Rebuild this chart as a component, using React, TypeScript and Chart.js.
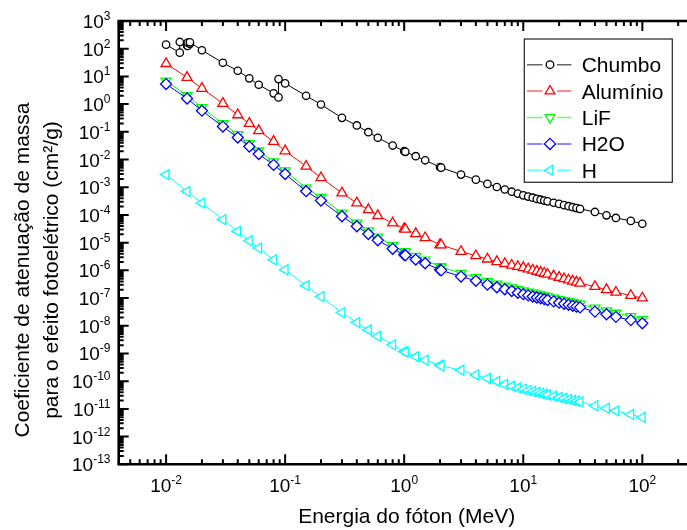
import { useEffect, useRef } from 'react';
import { Chart, registerables } from 'chart.js';

Chart.register(...registerables);

// ---------- data ----------
const energies = [
  0.01, 0.015, 0.02, 0.03, 0.04, 0.05, 0.06, 0.08, 0.1, 0.15, 0.2, 0.3, 0.4, 0.5, 0.6, 0.8,
  1, 1.022, 1.25, 1.5, 2, 2.044, 3, 4, 5, 6, 7, 8, 9, 10, 11, 12, 13, 14, 15, 16, 18, 20,
  22, 24, 26, 28, 30, 40, 50, 60, 80, 100,
];

const leadEnergies = [
  0.01, 0.013035, 0.013035, 0.015, 0.0152, 0.0152, 0.01586, 0.01586, 0.02, 0.03, 0.04, 0.05,
  0.06, 0.08, 0.088, 0.088, 0.1, 0.15, 0.2, 0.3, 0.4, 0.5, 0.6, 0.8, 1, 1.022, 1.25, 1.5, 2,
  2.044, 3, 4, 5, 6, 7, 8, 9, 10, 11, 12, 13, 14, 15, 16, 18, 20, 22, 24, 26, 28, 30, 40, 50,
  60, 80, 100,
];

const chumbo = [
  140, 72, 175, 130, 125, 165, 150, 170, 88, 31, 16, 8.5,
  5.0, 2.45, 1.75, 8.0, 5.6, 2.0, 0.97, 0.32, 0.17, 0.097, 0.061, 0.032, 0.02, 0.019, 0.0132, 0.0094, 0.0053,
  0.0051, 0.00286, 0.00188, 0.00132, 0.00102, 0.00083, 0.00069, 0.00059, 0.00051, 0.00046, 0.00042, 0.00038, 0.000355, 0.00033, 0.00031, 0.000275, 0.00025, 0.000226, 0.000207, 0.00019, 0.000177, 0.000165, 0.000128, 0.000097,
  0.000078, 0.000061, 0.000048,
];

const aluminio = [
  29, 9.2, 3.7, 1.06, 0.41, 0.2, 0.11, 0.045, 0.0205, 0.0057, 0.0022, 6.2e-4, 2.7e-4, 1.55e-4, 9.4e-5, 5.1e-5,
  3.2e-5, 3.05e-5, 2.1e-5, 1.5e-5, 8.5e-6, 8.2e-6, 4.8e-6, 3.35e-6, 2.55e-6, 2.05e-6, 1.75e-6, 1.52e-6, 1.37e-6, 1.25e-6, 1.12e-6, 1.01e-6, 9.2e-7, 8.4e-7, 7.8e-7, 7.2e-7, 6.3e-7, 5.55e-7,
  4.97e-7, 4.48e-7, 4.08e-7, 3.74e-7, 3.45e-7, 2.6e-7, 2.0e-7, 1.62e-7, 1.23e-7, 1.0e-7,
];

const lif = [
  6.8, 2.05, 0.75, 0.2, 0.08, 0.038, 0.0205, 0.0083, 0.0039, 9.4e-4, 4.3e-4, 1.17e-4, 5.1e-5, 2.68e-5, 1.6e-5, 7.9e-6,
  4.8e-6, 4.6e-6, 3.2e-6, 2.37e-6, 1.38e-6, 1.32e-6, 7.9e-7, 5.5e-7, 4.0e-7, 3.2e-7, 2.74e-7, 2.37e-7, 2.06e-7, 1.82e-7, 1.65e-7, 1.51e-7, 1.39e-7, 1.3e-7, 1.2e-7, 1.13e-7, 1.0e-7, 9.0e-8,
  8.2e-8, 7.6e-8, 7.0e-8, 6.5e-8, 6.1e-8, 4.35e-8, 3.5e-8, 2.85e-8, 2.17e-8, 1.67e-8,
];

const h2o = [
  5.3, 1.6, 0.58, 0.155, 0.062, 0.0295, 0.0158, 0.0064, 0.003, 7.2e-4, 3.3e-4, 9.0e-5, 3.9e-5, 2.05e-5, 1.22e-5, 6.0e-6,
  3.65e-6, 3.5e-6, 2.45e-6, 1.8e-6, 1.05e-6, 1.0e-6, 6.0e-7, 4.2e-7, 3.05e-7, 2.45e-7, 2.08e-7, 1.8e-7, 1.56e-7, 1.38e-7, 1.25e-7, 1.14e-7, 1.05e-7, 9.8e-8, 9.1e-8, 8.5e-8, 7.6e-8, 6.8e-8,
  6.2e-8, 5.7e-8, 5.25e-8, 4.9e-8, 4.6e-8, 3.25e-8, 2.6e-8, 2.1e-8, 1.6e-8, 1.23e-8,
];

const hidrogenio = [
  2.86e-3, 7.1e-4, 2.7e-4, 6.8e-5, 2.55e-5, 1.17e-5, 6.4e-6, 2.4e-6, 1.05e-6, 2.8e-7, 1.13e-7, 3.0e-8, 1.3e-8, 7.1e-9, 4.2e-9, 2.05e-9,
  1.17e-9, 1.12e-9, 7.7e-10, 5.8e-10, 3.8e-10, 3.6e-10, 2.5e-10, 1.67e-10, 1.27e-10, 9.8e-11, 7.6e-11, 6.6e-11, 5.7e-11, 5.1e-11, 4.6e-11, 4.25e-11, 3.95e-11, 3.65e-11, 3.4e-11, 3.2e-11, 2.87e-11, 2.6e-11,
  2.37e-11, 2.19e-11, 2.03e-11, 1.9e-11, 1.8e-11, 1.3e-11, 1.05e-11, 8.5e-12, 6.3e-12, 4.9e-12,
];

const seriesNames = ['Chumbo', 'Alumínio', 'LiF', 'H2O', 'H'];
const xTickExponents = ['-2', '-1', '0', '1', '2'];
const yTickExponents = ['3', '2', '1', '0', '-1', '-2', '-3', '-4', '-5', '-6', '-7', '-8', '-9', '-10', '-11', '-12', '-13'];
const xTitle = 'Energia do fóton (MeV)';
const yTitleLines = ['Coeficiente de atenuação de massa', 'para o efeito fotoelétrico (cm²/g)'];

// ---------- styles ----------
const FONT = '"Liberation Sans", Arial, Helvetica, sans-serif';
const W = 700;
const H = 530;
const X_MIN = 0.004;
const X_MAX = 250;
const Y_MIN = 1e-13;
const Y_MAX = 1e3;

type Marker = { color: string; style: string; radius: number; rotation: number };
const markers: Marker[] = [
  { color: '#000000', style: 'circle', radius: 3.7, rotation: 0 },
  { color: '#ff0000', style: 'triangle', radius: 5.8, rotation: 0 },
  { color: '#00ff00', style: 'triangle', radius: 5.8, rotation: 180 },
  { color: '#0000ff', style: 'rectRot', radius: 5.5, rotation: 0 },
  { color: '#00ffff', style: 'triangle', radius: 5.8, rotation: 270 },
];

function drawMarker(ctx: CanvasRenderingContext2D, m: Marker, x: number, y: number) {
  ctx.beginPath();
  const r = m.radius;
  if (m.style === 'circle') {
    ctx.arc(x, y, r, 0, Math.PI * 2);
  } else if (m.style === 'triangle') {
    let rad = (m.rotation * Math.PI) / 180;
    ctx.moveTo(x + Math.sin(rad) * r, y - Math.cos(rad) * r);
    rad += (2 * Math.PI) / 3;
    ctx.lineTo(x + Math.sin(rad) * r, y - Math.cos(rad) * r);
    rad += (2 * Math.PI) / 3;
    ctx.lineTo(x + Math.sin(rad) * r, y - Math.cos(rad) * r);
    ctx.closePath();
  } else {
    ctx.moveTo(x - r, y);
    ctx.lineTo(x, y - r);
    ctx.lineTo(x + r, y);
    ctx.lineTo(x, y + r);
    ctx.closePath();
  }
  ctx.fillStyle = '#ffffff';
  ctx.fill();
  ctx.lineWidth = 1.3;
  ctx.strokeStyle = m.color;
  ctx.stroke();
}

function drawPow(
  ctx: CanvasRenderingContext2D,
  x: number,
  baseline: number,
  exp: string,
  align: 'center' | 'right',
) {
  ctx.textAlign = 'left';
  ctx.textBaseline = 'alphabetic';
  ctx.font = `19px ${FONT}`;
  const wb = ctx.measureText('10').width;
  ctx.font = `12px ${FONT}`;
  const we = ctx.measureText(exp).width;
  const start = align === 'center' ? x - (wb + we) / 2 : x - wb - we;
  ctx.font = `19px ${FONT}`;
  ctx.fillText('10', start, baseline);
  ctx.font = `12px ${FONT}`;
  ctx.fillText(exp, start + wb, baseline - 8);
}

const framePlugin = {
  id: 'originFrame',
  afterDraw(chart: any) {
    const ctx: CanvasRenderingContext2D = chart.ctx;
    const xs = chart.scales.x;
    const ys = chart.scales.y;
    const { left, right, top, bottom } = chart.chartArea;
    ctx.save();
    ctx.fillStyle = '#000';
    ctx.strokeStyle = '#000';

    // ticks
    ctx.lineWidth = 2;
    ctx.beginPath();
    for (let e = -3; e <= 2; e++) {
      for (let m = 1; m <= 9; m++) {
        const v = m * Math.pow(10, e);
        if (v < X_MIN * 0.999 || v > X_MAX * 1.001) continue;
        const px = xs.getPixelForValue(v);
        const len = m === 1 ? 10 : 5;
        ctx.moveTo(px, bottom);
        ctx.lineTo(px, bottom - len);
        ctx.moveTo(px, top);
        ctx.lineTo(px, top + len);
      }
    }
    for (let e = -13; e <= 3; e++) {
      for (let m = 1; m <= 9; m++) {
        const v = m * Math.pow(10, e);
        if (v > Y_MAX * 1.001) continue;
        const py = ys.getPixelForValue(v);
        const len = m === 1 ? 10 : 5;
        ctx.moveTo(left, py);
        ctx.lineTo(left + len, py);
      }
    }
    ctx.stroke();

    // axis lines
    ctx.lineWidth = 2.6;
    ctx.beginPath();
    ctx.moveTo(right, top);
    ctx.lineTo(left, top);
    ctx.lineTo(left, bottom);
    ctx.lineTo(right, bottom);
    ctx.lineTo(right, top);
    ctx.stroke();

    // tick labels
    xTickExponents.forEach((exp) => {
      const px = xs.getPixelForValue(Math.pow(10, Number(exp)));
      drawPow(ctx, px, 491.7, exp, 'center');
    });
    yTickExponents.forEach((exp) => {
      const py = ys.getPixelForValue(Math.pow(10, Number(exp)));
      drawPow(ctx, 110.5, py + 7, exp, 'right');
    });

    // axis titles
    ctx.font = `21px ${FONT}`;
    ctx.textAlign = 'center';
    ctx.textBaseline = 'alphabetic';
    ctx.fillText(xTitle, 406.7, 523);
    ctx.save();
    ctx.translate(0, 270);
    ctx.rotate(-Math.PI / 2);
    ctx.textBaseline = 'middle';
    ctx.fillText(yTitleLines[0], 0, 23);
    ctx.fillText(yTitleLines[1], 0, 52);
    ctx.restore();

    // legend
    const lx0 = 524.3;
    const ly0 = 39;
    const lx1 = 672.3;
    const ly1 = 182.3;
    ctx.fillStyle = '#fff';
    ctx.fillRect(lx0, ly0, lx1 - lx0, ly1 - ly0);
    ctx.lineWidth = 1.2;
    ctx.strokeStyle = '#222';
    ctx.strokeRect(lx0, ly0, lx1 - lx0, ly1 - ly0);
    seriesNames.forEach((name, i) => {
      const y = 64.7 + i * 26.4;
      const mk = markers[i];
      ctx.save();
      ctx.globalAlpha = 0.6;
      ctx.strokeStyle = mk.color;
      ctx.lineWidth = 1.5;
      ctx.beginPath();
      ctx.moveTo(527, y);
      ctx.lineTo(542.5, y);
      ctx.moveTo(557, y);
      ctx.lineTo(571.5, y);
      ctx.stroke();
      ctx.restore();
      drawMarker(ctx, { ...mk, radius: mk.style === 'circle' ? 3.8 : 5.6 }, 550, y);
      ctx.fillStyle = '#000';
      ctx.font = `21px ${FONT}`;
      ctx.textAlign = 'left';
      ctx.textBaseline = 'alphabetic';
      ctx.fillText(name, 581.7, y + 7.5);
    });
    ctx.restore();
  },
};

function toPoints(xs: number[], ys: number[]) {
  return xs.map((x, i) => ({ x, y: ys[i] }));
}

export default function App() {
  const ref = useRef<HTMLCanvasElement | null>(null);

  useEffect(() => {
    if (!ref.current) return;
    const values = [chumbo, aluminio, lif, h2o, hidrogenio];
    const xsets = [leadEnergies, energies, energies, energies, energies];
    const orders = [1, 2, 4, 3, 5];
    const datasets = seriesNames.map((name, i) => ({
      label: name,
      data: toPoints(xsets[i], values[i]),
      borderColor: markers[i].color,
      backgroundColor: '#ffffff',
      borderWidth: 1,
      pointStyle: markers[i].style as any,
      pointRadius: markers[i].radius,
      pointRotation: markers[i].rotation,
      pointBorderWidth: 1.3,
      pointBorderColor: markers[i].color,
      pointBackgroundColor: '#ffffff',
      tension: 0,
      fill: false,
      order: orders[i],
    }));

    const chart = new Chart(ref.current, {
      type: 'line',
      data: { datasets },
      options: {
        animation: false,
        responsive: false,
        devicePixelRatio: 1,
        layout: {
          padding: { left: 118.7, right: W - 689.7, top: 21, bottom: H - 464.3 },
        },
        scales: {
          x: { type: 'logarithmic', min: X_MIN, max: X_MAX, display: false },
          y: { type: 'logarithmic', min: Y_MIN, max: Y_MAX, display: false },
        },
        plugins: {
          legend: { display: false },
          tooltip: { enabled: false },
        },
      },
      plugins: [framePlugin],
    });
    return () => chart.destroy();
  }, []);

  return (
    <div
      style={{
        position: 'fixed',
        left: 0,
        top: 0,
        width: 687,
        height: 530,
        overflow: 'hidden',
        background: '#ffffff',
      }}
    >
      <canvas ref={ref} width={W} height={H} style={{ display: 'block', width: W, height: H }} />
    </div>
  );
}
